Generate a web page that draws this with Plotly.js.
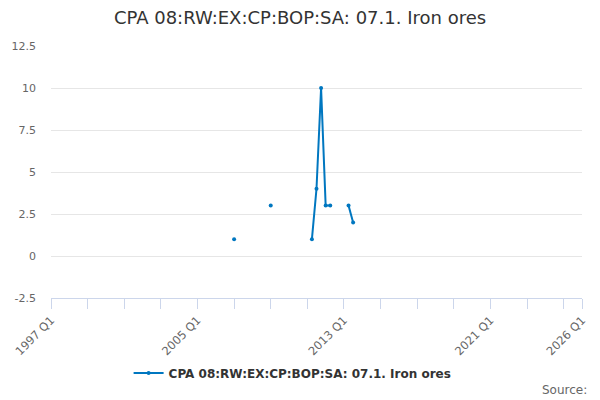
<!DOCTYPE html>
<html>
<head>
<meta charset="utf-8">
<script src="https://cdn.plot.ly/plotly-3.0.1.min.js"></script>
<style>html,body{margin:0;padding:0;background:#fff;}#chart{width:600px;height:400px;}</style>
</head>
<body>
<div id="chart"></div>
<script>
var periods = ["2007 Q1","2007 Q2","2009 Q1","2009 Q2","2011 Q2","2011 Q3","2011 Q4","2012 Q1","2012 Q2","2012 Q3","2013 Q2","2013 Q3"];
var values  = [1, null, 3, null, 1, 4, 10, 3, 3, null, 3, 2];
var tickYears = [1997,1999,2001,2003,2005,2007,2009,2011,2013,2015,2017,2019,2021,2023,2025,2026];
var tickLabels = ["1997 Q1","","","","2005 Q1","","","","2013 Q1","","","","2021 Q1","","","2026 Q1"];
var seriesName = "CPA 08:RW:EX:CP:BOP:SA: 07.1. Iron ores";

function toNum(p){var a=p.split(" Q");return parseInt(a[0],10)+(parseInt(a[1],10)-1)/4;}
var xs = periods.map(toNum);

var font = "DejaVu Sans, sans-serif";
var trace = {
  x: xs, y: values, name: seriesName, type: "scatter", mode: "lines+markers",
  connectgaps: false,
  line: {color: "#0077c0", width: 2},
  marker: {color: "#0077c0", size: 4},
  showlegend: true
};
var layout = {
  width: 600, height: 400,
  margin: {l: 51, r: 18, t: 46, b: 102},
  paper_bgcolor: "#fff", plot_bgcolor: "#fff",
  font: {family: font, color: "#666", size: 11},
  title: {text: seriesName, font: {family: font, size: 18, color: "#333"}, x: 0.5, xanchor: "center", y: 0.955, yanchor: "middle", yref: "container"},
  xaxis: {
    range: [1997, 2026], tickmode: "array", tickvals: tickYears, ticktext: tickLabels,
    tickangle: -45, ticks: "outside", ticklen: 10, tickcolor: "#ccd6eb", tickwidth: 1,
    showline: true, linecolor: "#ccd6eb", linewidth: 1, showgrid: false, zeroline: false,
    tickfont: {size: 11.5, color: "#666"}, fixedrange: true
  },
  yaxis: {
    range: [-2.5, 12.5], tickmode: "array", tickvals: [-2.5,0,2.5,5,7.5,10,12.5],
    ticktext: ["-2.5","0","2.5","5","7.5","10","12.5"],
    showgrid: true, gridcolor: "#e6e6e6", gridwidth: 1, zeroline: false, showline: false,
    ticks: "", ticklabelstandoff: 14, tickfont: {size: 11, color: "#666"}
  },
  legend: {orientation: "h", x: 0.455, xanchor: "center", y: 0.0675, yref: "container", yanchor: "middle",
    font: {family: font, size: 12, color: "#333", weight: "bold"}},
  annotations: [{text: "Source:", xref: "paper", yref: "paper", x: 1.013, xanchor: "right", y: -0.365, yanchor: "middle",
    showarrow: false, font: {family: font, size: 12, color: "#666"}}]
};
Plotly.newPlot("chart", [trace], layout, {displayModeBar: false, staticPlot: true});
</script>
</body>
</html>
